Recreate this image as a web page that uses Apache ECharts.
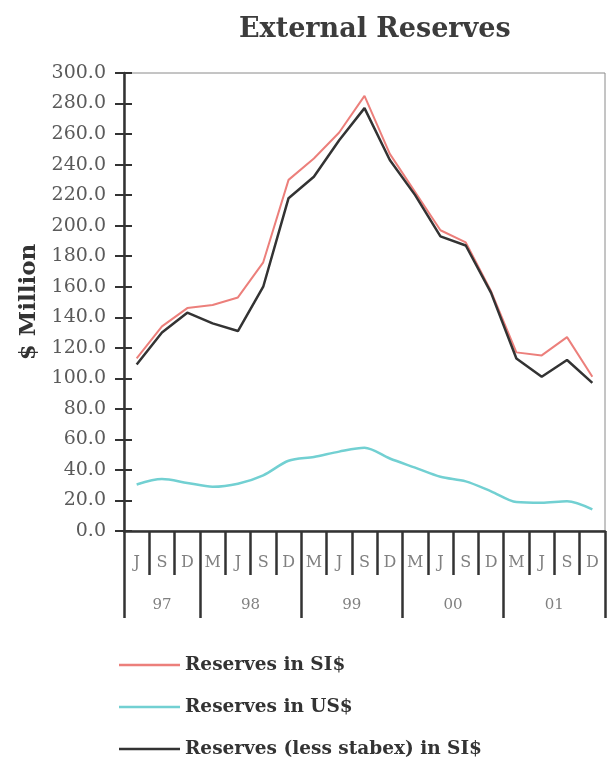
<!DOCTYPE html>
<html>
<head>
<meta charset="utf-8">
<title>External Reserves</title>
<script src="https://cdn.jsdelivr.net/npm/echarts@6.0.0/dist/echarts.min.js"></script>
<style>
  html, body { margin: 0; padding: 0; background: #fff; }
  #root { width: 607px; height: 760px; }
</style>
</head>
<body>
<div id="root"></div>
<script>
  "use strict";

  // quarters along the x axis, J 97 .. D 01
  const quarters = ['J', 'S', 'D', 'M', 'J', 'S', 'D', 'M', 'J', 'S', 'D', 'M', 'J', 'S', 'D', 'M', 'J', 'S', 'D'];
  const years = ['97', '98', '99', '00', '01'];
  const quartersPerYear = [3, 4, 4, 4, 4];

  // $ million
  const reservesSIS = [113, 134, 146, 148, 153, 176, 230, 244, 261, 285, 247, 222, 197, 189, 157, 117, 115, 127, 101];
  const reservesUSD = [30.5, 34, 31.5, 29, 31, 36.5, 46, 48.5, 52, 54.5, 47.5, 41.5, 35.5, 32.5, 26, 19, 18.5, 19.5, 14.2];
  const reservesLessStabex = [109, 130, 143, 136, 131, 160, 218, 232, 256, 277, 243, 220, 193, 187, 156, 113, 101, 112, 97];

  const yMin = 0;
  const yMax = 300;
  const yStep = 20;

  // year boundaries and year label positions, in quarter units
  const yearEdges = [0];
  quartersPerYear.forEach(n => yearEdges.push(yearEdges[yearEdges.length - 1] + n));
  const yearMids = quartersPerYear.map((n, i) => yearEdges[i] + n / 2);

  const serif = 'DejaVu Serif';
  const axisDark = '#333';
  const red = '#ec7f7b';
  const cyan = '#72d0d2';
  const black = '#333';

  const chart = echarts.init(document.getElementById('root'), null, { renderer: 'canvas' });

  const option = {
    animation: false,
    backgroundColor: '#fff',
    title: {
      text: 'External Reserves',
      left: 239,
      top: 16,
      padding: 0,
      textStyle: { fontFamily: serif, fontWeight: 'bold', fontSize: 27, color: '#3c3c3c' }
    },
    grid: {
      left: 124,
      right: 2,
      top: 73,
      bottom: 229,
      containLabel: false,
      outerBoundsMode: 'none',
      show: true,
      borderColor: '#8a8a8a',
      borderWidth: 1
    },
    legend: {
      orient: 'vertical',
      left: 119,
      top: 654,
      height: 140,
      padding: 0,
      icon: 'rect',
      itemWidth: 61,
      itemHeight: 2.5,
      itemGap: 20,
      textStyle: { fontFamily: serif, fontWeight: 'bold', fontSize: 18.5, lineHeight: 22, color: '#333' }
    },
    xAxis: [{
      type: 'category',
      position: 'bottom',
      data: quarters,
      boundaryGap: true,
      axisLine: { show: true, onZero: false, lineStyle: { color: axisDark, width: 2.5 } },
      axisTick: { show: true, interval: 0, length: 44, lineStyle: { color: axisDark, width: 2.5 } },
      axisLabel: { interval: 0, margin: 24, fontFamily: serif, fontSize: 16, color: '#808080' },
      splitLine: { show: false }
    }, {
      type: 'value',
      position: 'bottom',
      min: 0,
      max: quarters.length,
      axisLine: { show: false },
      axisTick: { show: true, customValues: yearEdges, length: 87, lineStyle: { color: axisDark, width: 2.5 } },
      axisLabel: {
        show: true,
        customValues: yearMids,
        margin: 67,
        fontFamily: serif,
        fontSize: 15,
        color: '#808080',
        formatter: v => years[yearMids.indexOf(v)] || ''
      },
      splitLine: { show: false }
    }],
    yAxis: [{
      type: 'value',
      position: 'left',
      min: yMin,
      max: yMax,
      interval: yStep,
      name: '$ Million',
      nameLocation: 'middle',
      nameRotate: 90,
      nameGap: 82,
      nameTextStyle: { fontFamily: serif, fontWeight: 'bold', fontSize: 23, color: '#333' },
      axisLine: { show: true, onZero: false, lineStyle: { color: axisDark, width: 2.5 } },
      axisTick: { show: true, length: 9, lineStyle: { color: axisDark, width: 2 } },
      axisLabel: { margin: 18, fontFamily: serif, fontSize: 19, color: '#5a5a5a', formatter: v => v.toFixed(1) },
      splitLine: { show: false }
    }, {
      // second copy only to get the ticks crossing the axis
      type: 'value',
      position: 'left',
      min: yMin,
      max: yMax,
      interval: yStep,
      axisLine: { show: false },
      axisTick: { show: true, inside: true, length: 8, lineStyle: { color: axisDark, width: 2 } },
      axisLabel: { show: false },
      splitLine: { show: false }
    }],
    series: [{
      name: 'Reserves in SI$',
      type: 'line',
      data: reservesSIS,
      symbol: 'none',
      lineStyle: { color: red, width: 2 },
      itemStyle: { color: red },
      z: 2
    }, {
      name: 'Reserves in US$',
      type: 'line',
      data: reservesUSD,
      smooth: 0.3,
      symbol: 'none',
      lineStyle: { color: cyan, width: 2.5 },
      itemStyle: { color: cyan },
      z: 2
    }, {
      name: 'Reserves (less stabex) in SI$',
      type: 'line',
      data: reservesLessStabex,
      symbol: 'none',
      lineStyle: { color: black, width: 2.5 },
      itemStyle: { color: black },
      z: 3
    }]
  };

  chart.setOption(option);
</script>
</body>
</html>
